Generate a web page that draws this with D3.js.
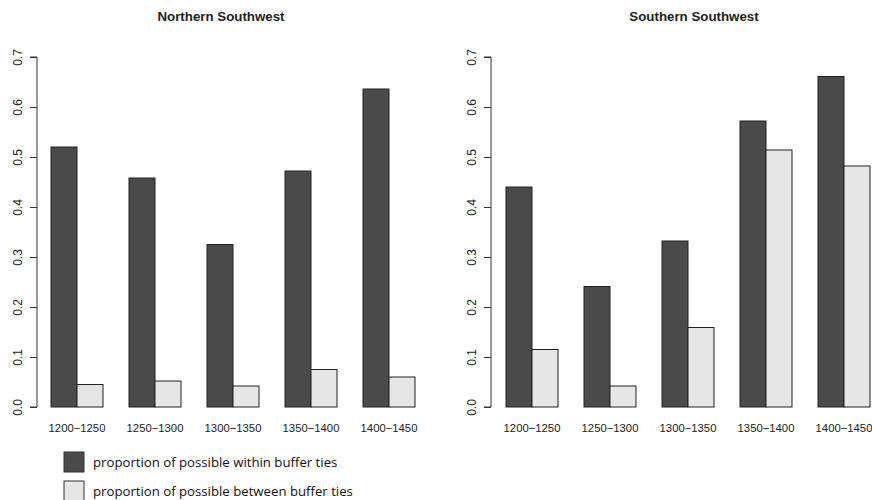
<!DOCTYPE html>
<html>
<head>
<meta charset="utf-8">
<script src="https://cdn.jsdelivr.net/npm/d3@7"></script>
<style>
  body { margin: 0; background: #fff; }
  svg { display: block; }
</style>
</head>
<body>
<div id="chart"></div>
<script>
var periods = ["1200\u22121250", "1250\u22121300", "1300\u22121350", "1350\u22121400", "1400\u22121450"];
var series = ["proportion of possible within buffer ties", "proportion of possible between buffer ties"];
var northWithin = [0.520, 0.458, 0.325, 0.472, 0.636];
var northBetween = [0.045, 0.052, 0.042, 0.075, 0.060];
var southWithin = [0.440, 0.241, 0.332, 0.572, 0.661];
var southBetween = [0.115, 0.042, 0.159, 0.514, 0.482];
var yTicks = [0, 0.1, 0.2, 0.3, 0.4, 0.5, 0.6, 0.7];

var colors = ["#4a4a4a", "#e6e6e6"];

var svg = d3.select("#chart")
  .append("svg")
  .attr("width", 872)
  .attr("height", 500);

var yScale = d3.scaleLinear()
  .domain([0, 0.7])
  .range([407, 57]);

function panel(title, within, between, axisX, barsX0, barsX1, titleX) {
  var g = svg.append("g");

  var x0 = d3.scaleBand()
    .domain(periods)
    .range([barsX0, barsX1])
    .paddingInner(1 / 3)
    .paddingOuter(0);

  var x1 = d3.scaleBand()
    .domain([0, 1])
    .range([0, x0.bandwidth()]);

  var rows = periods.map(function (p, i) {
    return { period: p, values: [within[i], between[i]] };
  });

  var groups = g.selectAll("g.grp")
    .data(rows)
    .enter().append("g")
    .attr("class", "grp")
    .attr("transform", function (d) { return "translate(" + x0(d.period) + ",0)"; });

  groups.selectAll("rect")
    .data(function (d) { return d.values; })
    .enter().append("rect")
    .attr("x", function (d, i) { return x1(i); })
    .attr("y", function (d) { return yScale(d); })
    .attr("width", x1.bandwidth())
    .attr("height", function (d) { return yScale(0) - yScale(d); })
    .attr("fill", function (d, i) { return colors[i]; })
    .attr("stroke", "#222")
    .attr("stroke-width", 1);

  // y axis, R style: rotated labels
  var yAxis = d3.axisLeft(yScale)
    .tickValues(yTicks)
    .tickSize(7)
    .tickFormat(d3.format(".1f"));

  var ya = g.append("g")
    .attr("transform", "translate(" + axisX + ",0)")
    .call(yAxis);
  ya.select(".domain").attr("d", "M-7," + yScale(0) + "H0V" + yScale(0.7) + "H-7")
    .attr("stroke", "#333");
  ya.selectAll(".tick line").attr("stroke", "#333");
  ya.selectAll(".tick text")
    .attr("x", 0)
    .attr("dy", 0)
    .attr("transform", "translate(-15,0) rotate(-90)")
    .attr("text-anchor", "middle")
    .attr("font-family", "Liberation Sans, Arial, sans-serif")
    .attr("font-size", 12)
    .attr("fill", "#222");

  // category labels
  g.selectAll("text.cat")
    .data(periods)
    .enter().append("text")
    .attr("class", "cat")
    .attr("x", function (d) { return x0(d) + x0.bandwidth() / 2; })
    .attr("y", 432)
    .attr("text-anchor", "middle")
    .attr("font-family", "Liberation Sans, Arial, sans-serif")
    .attr("font-size", 11.3)
    .attr("fill", "#222")
    .text(function (d) { return d; });

  g.append("text")
    .attr("x", titleX)
    .attr("y", 21)
    .attr("text-anchor", "middle")
    .attr("font-family", "Liberation Sans, Arial, sans-serif")
    .attr("font-weight", "bold")
    .attr("font-size", 13.3)
    .attr("fill", "#222")
    .text(title);
}

panel("Northern Southwest", northWithin, northBetween, 37, 51, 415, 221);
panel("Southern Southwest", southWithin, southBetween, 491, 506, 870, 694);

// legend
var legend = svg.append("g").attr("transform", "translate(64,452)");
var items = legend.selectAll("g")
  .data(series)
  .enter().append("g")
  .attr("transform", function (d, i) { return "translate(0," + (i * 29) + ")"; });

items.append("rect")
  .attr("width", 20)
  .attr("height", 20)
  .attr("fill", function (d, i) { return colors[i]; })
  .attr("stroke", "#333")
  .attr("stroke-width", 1);

items.append("text")
  .attr("x", 29)
  .attr("y", 15)
  .attr("font-family", "Open Sans, sans-serif")
  .attr("font-size", 13.2)
  .attr("fill", "#111")
  .text(function (d) { return d; });
</script>
</body>
</html>
